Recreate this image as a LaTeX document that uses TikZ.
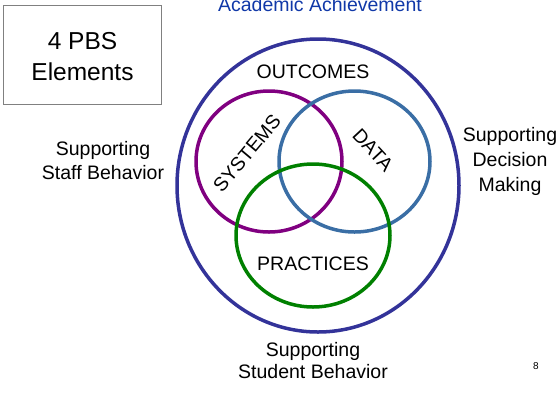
\documentclass[tikz,border=0pt]{standalone}
\usepackage{fontspec}
\setmainfont{Liberation Sans}
\definecolor{ringnavy}{RGB}{51,51,153}
\definecolor{sysviolet}{RGB}{128,0,128}
\definecolor{datablue}{RGB}{58,110,165}
\definecolor{practgreen}{RGB}{0,128,0}
\definecolor{achieveblue}{RGB}{16,56,168}
\begin{document}
\begin{tikzpicture}[x=1pt,y=-1pt,
		lbl/.style={font=\fontsize{19.5}{24}\selectfont, align=center, inner sep=0pt},
		ring/.style={line width=3.5pt}]
	\useasboundingbox (0,0) rectangle (560,392);
	\draw[ring, ringnavy] (318,185.5) ellipse [x radius=141pt, y radius=146.5pt];
	\foreach \cx/\cy/\rx/\ry/\c in {269/161.5/73/70.5/sysviolet, 354.5/161.5/75.5/70.5/datablue, 313/235.5/77/71.5/practgreen}{
		\draw[ring, \c] (\cx,\cy) ellipse [x radius=\rx pt, y radius=\ry pt];
	}
	\node[draw=gray, line width=1.2pt, minimum width=158pt, minimum height=99pt] (pbs) at (82.5,55) {};
	\node[align=center, inner sep=0pt, font=\fontsize{24.5}{31}\selectfont] (pbstext) at (82.5,57) {4 PBS\\Elements};
	\node[lbl] (outcomes) at (313,72) {OUTCOMES};
	\node[lbl] (practices) at (313,264) {PRACTICES};
	\node[lbl, rotate=50] (systems) at (247,153) {SYSTEMS};
	\node[lbl, rotate=-47] (data) at (373,150) {DATA};
	\node[lbl, text=achieveblue] (achieve) at (320,5) {Academic Achievement};
	\node[lbl] (staff) at (103,161) {Supporting\\Staff Behavior};
	\node[lbl, font=\fontsize{19.5}{25}\selectfont] (decision) at (510,161) {Supporting\\Decision\\Making};
	\node[lbl, font=\fontsize{19.5}{22}\selectfont] (student) at (313,361) {Supporting\\Student Behavior};
	\node[font=\fontsize{10}{12}\selectfont, inner sep=0pt] (slide) at (536,366) {8};
\end{tikzpicture}
\end{document}
